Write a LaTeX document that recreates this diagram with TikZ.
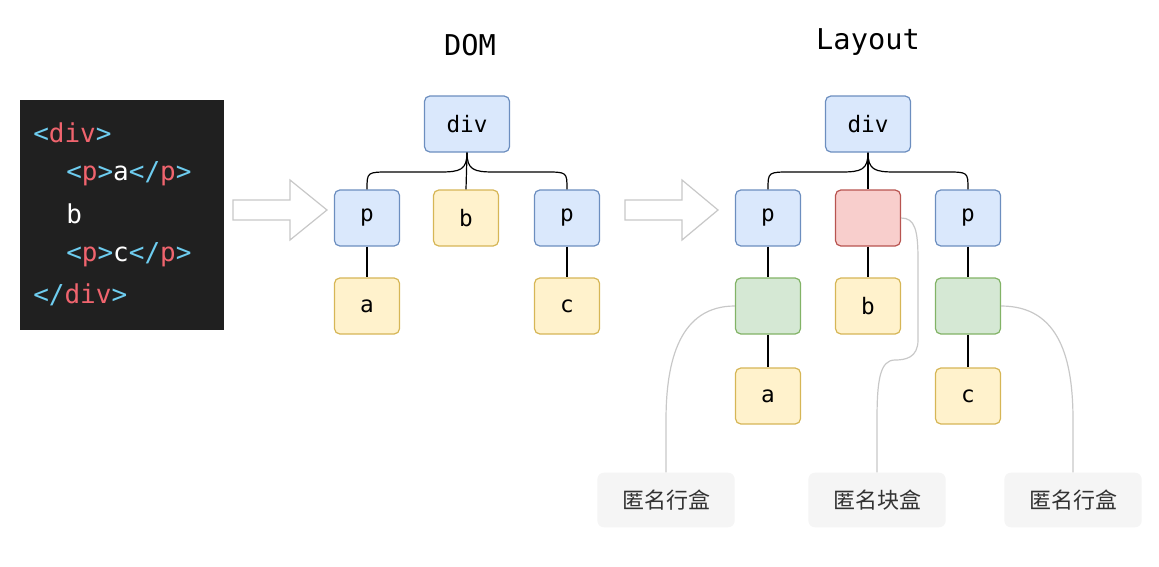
\documentclass[tikz,border=0pt]{standalone}
\usepackage{fontspec}
\setmonofont{DejaVu Sans Mono}
\newfontfamily\cjk{Noto Sans CJK SC}
\begin{document}
\begin{tikzpicture}[x=0.75pt,y=-0.75pt,
  bx/.style={draw, rounded corners=4pt, line width=0.9pt, minimum width=48.75pt, minimum height=42pt, font=\ttfamily\fontsize{17}{19}\selectfont},
  blue/.style={bx, draw={rgb,255:red,108;green,142;blue,191}, fill={rgb,255:red,218;green,232;blue,252}},
  yel/.style={bx, draw={rgb,255:red,214;green,182;blue,86}, fill={rgb,255:red,255;green,242;blue,204}},
  grn/.style={bx, draw={rgb,255:red,130;green,179;blue,102}, fill={rgb,255:red,213;green,232;blue,212}},
  red/.style={bx, draw={rgb,255:red,184;green,84;blue,80}, fill={rgb,255:red,248;green,206;blue,204}},
  wide/.style={minimum width=63.75pt},
  lbl/.style={fill={rgb,255:red,245;green,245;blue,245}, rounded corners=5pt, minimum width=103pt, minimum height=41pt, font=\cjk\fontsize{16.5}{18}\selectfont, text={rgb,255:red,50;green,50;blue,50}},
  ttl/.style={font=\ttfamily\fontsize{21.5}{24}\selectfont},
  tree/.style={line width=0.9pt},
  note/.style={draw={rgb,255:red,200;green,200;blue,200}, line width=0.9pt},
  bigarrow/.style={draw={rgb,255:red,200;green,200;blue,200}, fill=white, line width=0.9pt},
  code/.style={font=\ttfamily\fontsize{19.5}{22}\selectfont, anchor=west, inner sep=0pt}
]
\useasboundingbox (0,0) rectangle (1159,567);
\definecolor{tagc}{RGB}{110,205,240}
\definecolor{namec}{RGB}{240,100,110}
% code block
\fill[fill={rgb,255:red,32;green,32;blue,32}] (20,100) rectangle (224,330);
\node[code] (l1) at (33,133) {\color{tagc}<\color{namec}div\color{tagc}>};
\node[code] (l2) at (66,174) {\color{tagc}<\color{namec}p\color{tagc}>\color{white}a\color{tagc}</\color{namec}p\color{tagc}>};
\node[code] (l3) at (66,214) {\color{white}b};
\node[code] (l4) at (66,255) {\color{tagc}<\color{namec}p\color{tagc}>\color{white}c\color{tagc}</\color{namec}p\color{tagc}>};
\node[code] (l5) at (33,295) {\color{tagc}</\color{namec}div\color{tagc}>};
% arrows
\draw[bigarrow] (233,200) -- (290,200) -- (290,180) -- (327,210) -- (290,240) -- (290,220) -- (233,220) -- cycle;
\draw[bigarrow] (625,200) -- (682,200) -- (682,180) -- (718,210) -- (682,240) -- (682,220) -- (625,220) -- cycle;
% titles
\node[ttl] (t1) at (470,45) {DOM};
\node[ttl] (t2) at (868,42) {Layout};
% DOM tree
\node[blue,wide] (ddiv) at (467,124) {div};
\node[blue] (dp1) at (367,218) {p};
\node[yel] (db) at (466,218) {b};
\node[blue] (dp2) at (567,218) {p};
\node[yel] (da) at (367,306) {a};
\node[yel] (dc) at (567,306) {c};
\draw[tree] (ddiv.south) .. controls (467,170) and (460,172) .. (440,172) -- (390,172) .. controls (367,172) .. (dp1.north);
\draw[tree] (ddiv.south) .. controls (467,170) and (474,172) .. (494,172) -- (545,172) .. controls (567,172) .. (dp2.north);
\draw[tree] (ddiv.south) -- (db.north);
\draw[tree] (dp1) -- (da);
\draw[tree] (dp2) -- (dc);
% Layout tree
\node[blue,wide] (ldiv) at (868,124) {div};
\node[blue] (lp1) at (768,218) {p};
\node[red] (lanon) at (868,218) {};
\node[blue] (lp2) at (968,218) {p};
\node[grn] (lg1) at (768,306) {};
\node[yel] (lb) at (868,306) {b};
\node[grn] (lg2) at (968,306) {};
\node[yel] (la) at (768,396) {a};
\node[yel] (lc) at (968,396) {c};
\draw[tree] (ldiv.south) .. controls (868,170) and (861,172) .. (841,172) -- (791,172) .. controls (768,172) .. (lp1.north);
\draw[tree] (ldiv.south) .. controls (868,170) and (875,172) .. (895,172) -- (946,172) .. controls (968,172) .. (lp2.north);
\draw[tree] (ldiv.south) -- (lanon.north);
\draw[tree] (lp1) -- (lg1) -- (la);
\draw[tree] (lanon) -- (lb);
\draw[tree] (lp2) -- (lg2) -- (lc);
% labels
\node[lbl] (n1) at (666,500) {匿名行盒};
\node[lbl] (n2) at (877,500) {匿名块盒};
\node[lbl] (n3) at (1073,500) {匿名行盒};
\draw[note] (lg1.west) .. controls (680,306) and (666,360) .. (666,420) -- (n1.north);
\draw[note] (lanon.east) .. controls (915,218) and (918,230) .. (918,260) -- (918,340) .. controls (918,358) and (905,360) .. (895,360) .. controls (880,360) and (877,380) .. (877,420) -- (n2.north);
\draw[note] (lg2.east) .. controls (1060,306) and (1073,360) .. (1073,420) -- (n3.north);
\end{tikzpicture}
\end{document}
